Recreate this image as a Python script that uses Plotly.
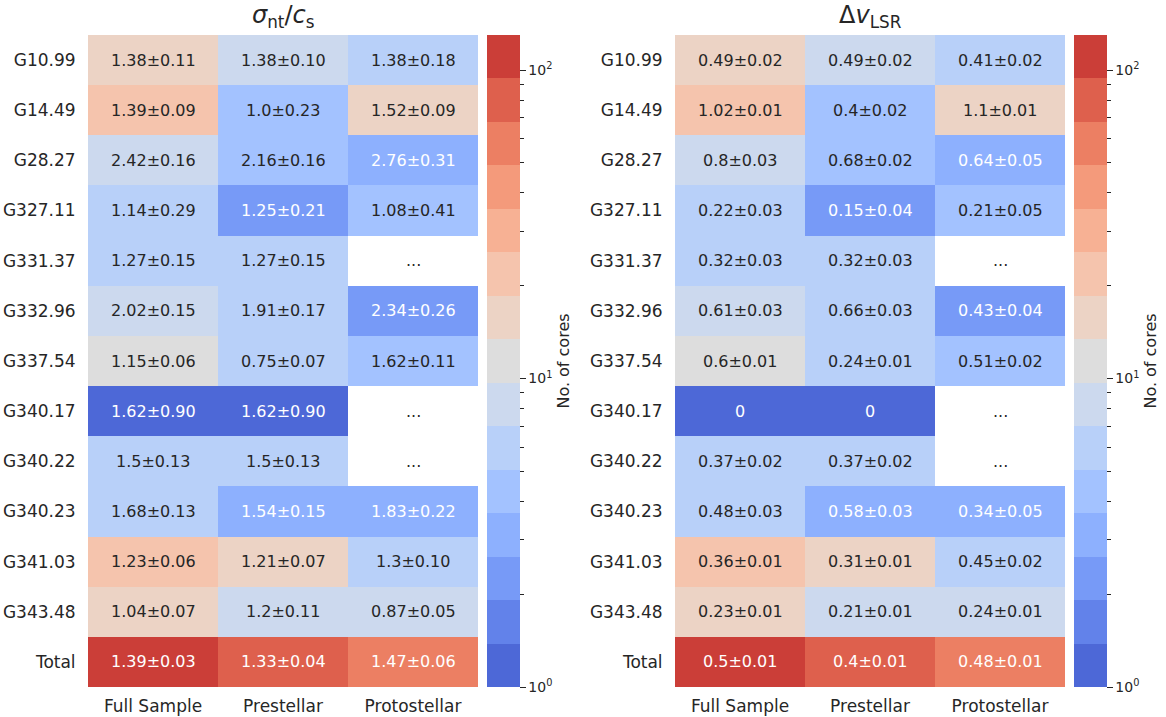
import numpy as np
import plotly.graph_objects as go

regions = ["G10.99", "G14.49", "G28.27", "G327.11", "G331.37", "G332.96", "G337.54",
           "G340.17", "G340.22", "G340.23", "G341.03", "G343.48", "Total"]
columns = ["Full Sample", "Prestellar", "Protostellar"]

# number of cores (colour of each cell)
n_full = [15, 20, 8, 6, 6, 8, 12, 1, 6, 6, 21, 16, 125]
n_pre = [8, 4, 5, 2, 6, 6, 7, 1, 6, 3, 15, 8, 71]
n_proto = [7, 16, 3, 4, 0, 2, 5, 0, 0, 3, 6, 8, 54]

sigma_full = ["1.38±0.11", "1.39±0.09", "2.42±0.16", "1.14±0.29", "1.27±0.15", "2.02±0.15", "1.15±0.06",
              "1.62±0.90", "1.5±0.13", "1.68±0.13", "1.23±0.06", "1.04±0.07", "1.39±0.03"]
sigma_pre = ["1.38±0.10", "1.0±0.23", "2.16±0.16", "1.25±0.21", "1.27±0.15", "1.91±0.17", "0.75±0.07",
             "1.62±0.90", "1.5±0.13", "1.54±0.15", "1.21±0.07", "1.2±0.11", "1.33±0.04"]
sigma_proto = ["1.38±0.18", "1.52±0.09", "2.76±0.31", "1.08±0.41", "...", "2.34±0.26", "1.62±0.11",
               "...", "...", "1.83±0.22", "1.3±0.10", "0.87±0.05", "1.47±0.06"]

dv_full = ["0.49±0.02", "1.02±0.01", "0.8±0.03", "0.22±0.03", "0.32±0.03", "0.61±0.03", "0.6±0.01",
           "0", "0.37±0.02", "0.48±0.03", "0.36±0.01", "0.23±0.01", "0.5±0.01"]
dv_pre = ["0.49±0.02", "0.4±0.02", "0.68±0.02", "0.15±0.04", "0.32±0.03", "0.66±0.03", "0.24±0.01",
          "0", "0.37±0.02", "0.58±0.03", "0.31±0.01", "0.21±0.01", "0.4±0.01"]
dv_proto = ["0.41±0.02", "1.1±0.01", "0.64±0.05", "0.21±0.05", "...", "0.43±0.04", "0.51±0.02",
            "...", "...", "0.34±0.05", "0.45±0.02", "0.24±0.01", "0.48±0.01"]

cbar_max = 130
n_bins = 15

# coolwarm sampled like seaborn's color_palette("coolwarm", 15)
coolwarm_pts = [
    (59, 76, 192), (68, 90, 204), (77, 104, 215), (87, 117, 225), (98, 130, 234), (108, 142, 241),
    (119, 154, 247), (130, 165, 251), (141, 176, 254), (152, 185, 255), (163, 194, 255), (174, 201, 253),
    (184, 208, 249), (194, 213, 244), (204, 217, 238), (213, 219, 230), (221, 221, 221), (229, 216, 209),
    (236, 211, 197), (241, 204, 185), (245, 196, 173), (247, 187, 160), (247, 177, 148), (247, 166, 135),
    (244, 154, 123), (241, 141, 111), (236, 127, 99), (229, 112, 88), (222, 96, 77), (213, 80, 66),
    (203, 62, 56), (192, 40, 47), (180, 4, 38)]
palette = [coolwarm_pts[2 * (k + 1)] for k in range(n_bins)]
pal_str = ["rgb(%d,%d,%d)" % c for c in palette]
colorscale = []
for k, c in enumerate(pal_str):
    colorscale.append([k / n_bins, c])
    colorscale.append([(k + 1) / n_bins, c])

zmax = np.log10(cbar_max)


def lin(v):
    v = v / 255.0
    return v / 12.92 if v <= 0.03928 else ((v + 0.055) / 1.055) ** 2.4


def text_color(n):
    if n <= 0:
        return "#262626"
    b = min(int(np.log10(n) / zmax * n_bins), n_bins - 1)
    r, g, bb = palette[b]
    lum = 0.2126 * lin(r) + 0.7152 * lin(g) + 0.0722 * lin(bb)
    return "white" if lum < 0.45 else "#262626"


counts = np.array([n_full, n_pre, n_proto], dtype=float).T
z = np.where(counts > 0, np.log10(np.where(counts > 0, counts, 1)), np.nan)

W, H = 1166, 717
top, bottom = 35, 687
panels = [
    dict(x0=88, x1=478, cb=487, texts=[sigma_full, sigma_pre, sigma_proto],
         title="<i>σ</i><sub>nt</sub>/<i>c</i><sub>s</sub>"),
    dict(x0=675, x1=1065, cb=1074, texts=[dv_full, dv_pre, dv_proto],
         title="Δ<i>v</i><sub>LSR</sub>"),
]

fig = go.Figure()
FONT = "DejaVu Sans"
DARK = "#262626"
major = [0, 1, 2]
major_txt = ["10<sup>0</sup>", "10<sup>1</sup>", "10<sup>2</sup>"]
minor = [np.log10(v) for v in list(range(2, 10)) + list(range(20, 100, 10))]

annotations = []
for i, p in enumerate(panels):
    xa = "x" if i == 0 else "x2"
    ya = "y" if i == 0 else "y2"
    cb_common = dict(
        x=p["cb"] / W, xanchor="left", xref="paper", y=1 - top / H, yanchor="top", yref="paper",
        len=(bottom - top) / H, lenmode="fraction", thickness=33, thicknessmode="pixels",
        outlinewidth=0, xpad=0, ypad=0, ticks="outside", tickcolor=DARK, tickwidth=1,
        tickfont=dict(size=14, color=DARK, family=FONT),
    )
    fig.add_trace(go.Heatmap(
        z=z, x=columns, y=regions, xaxis=xa, yaxis=ya, zmin=0, zmax=zmax,
        colorscale=colorscale, hoverinfo="skip",
        colorbar=dict(**cb_common, tickmode="array", tickvals=major, ticktext=major_txt, ticklen=6,
                      title=dict(text="No. of cores", side="right",
                                 font=dict(size=16, color=DARK, family=FONT))),
    ))
    # second identical colour bar carrying the shorter minor ticks
    fig.add_trace(go.Heatmap(
        z=z, x=columns, y=regions, xaxis=xa, yaxis=ya, zmin=0, zmax=zmax,
        colorscale=colorscale, hoverinfo="skip",
        colorbar=dict(**cb_common, tickmode="array", tickvals=minor, ticklen=4, showticklabels=False),
    ))
    for c, col in enumerate(columns):
        for r, reg in enumerate(regions):
            n = counts[r, c]
            annotations.append(dict(
                x=col, y=reg, xref=xa, yref=ya, text=p["texts"][c][r], showarrow=False,
                font=dict(size=16, family=FONT, color=text_color(n)),
            ))
    annotations.append(dict(
        x=(p["x0"] + p["x1"]) / 2 / W, y=1 - (top - 1) / H, xref="paper", yref="paper",
        xanchor="center", yanchor="bottom", text=p["title"], showarrow=False,
        font=dict(size=24, family=FONT, color=DARK),
    ))

axis_common = dict(showgrid=False, zeroline=False, showline=False, ticks="outside",
                   tickcolor="rgba(0,0,0,0)", tickfont=dict(size=17, color=DARK, family=FONT))
layout_axes = {}
for i, p in enumerate(panels):
    sfx = "" if i == 0 else "2"
    layout_axes["xaxis" + sfx] = dict(domain=[p["x0"] / W, p["x1"] / W], anchor="y" + sfx,
                                      type="category", ticklen=4, **axis_common)
    layout_axes["yaxis" + sfx] = dict(domain=[1 - bottom / H, 1 - top / H], anchor="x" + sfx,
                                      type="category", autorange="reversed", ticklen=8, **axis_common)

fig.update_layout(
    width=W, height=H, margin=dict(l=0, r=0, t=0, b=0),
    paper_bgcolor="white", plot_bgcolor="white",
    font=dict(family=FONT, color=DARK),
    annotations=annotations, showlegend=False,
    **layout_axes,
)

fig.write_html("out.html")
